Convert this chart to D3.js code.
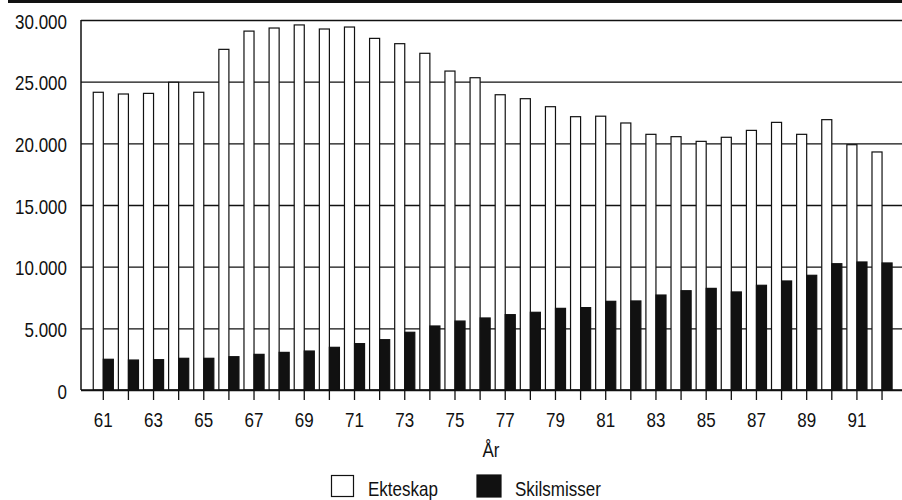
<!DOCTYPE html>
<html>
<head>
<meta charset="utf-8">
<script src="https://cdn.jsdelivr.net/npm/d3@7"></script>
<style>
  html, body { margin: 0; padding: 0; background: #fff; }
  svg { display: block; }
  text { font-family: "Liberation Sans", Arial, sans-serif; fill: #111; }
</style>
</head>
<body>
<svg id="chart" width="902" height="500"></svg>
<script>
const years = [61,62,63,64,65,66,67,68,69,70,71,72,73,74,75,76,77,78,79,80,81,82,83,84,85,86,87,88,89,90,91,92];
const ekteskap = [24140,24000,24050,24950,24140,27620,29100,29350,29600,29270,29430,28510,28080,27300,25860,25320,23940,23620,22970,22160,22200,21650,20730,20540,20160,20490,21050,21700,20730,21920,19890,19300];
const skilsmisser = [2490,2430,2460,2570,2570,2700,2890,3050,3160,3460,3760,4080,4680,5190,5590,5840,6110,6300,6620,6680,7190,7220,7700,8050,8240,7950,8490,8840,9300,10240,10380,10300];
const seriesNames = ["Ekteskap", "Skilsmisser"];
const seriesFill = {"Ekteskap": "#fff", "Skilsmisser": "#111"};
const yTicks = [0,5000,10000,15000,20000,25000,30000];
const xLabel = "År";

(function () {
const svg = d3.select("#chart");
const ink = "#111";
const pLeft = 81, pRight = 904, pTop = 20, pBottom = 390;
const squeeze = 0.85;

function narrow(sel, origin) {
  sel.style("transform-box", "fill-box")
     .style("transform-origin", origin)
     .style("transform", `scaleX(${squeeze})`);
}

const locale = d3.formatLocale({decimal: ",", thousands: ".", grouping: [3], currency: ["kr ", ""]});
const fmt = locale.format(",d");

const x = d3.scaleBand().domain(years).range([90.74, 894.6]).paddingInner(0.2).paddingOuter(0.1);
const xs = d3.scaleBand().domain(seriesNames).range([0, x.bandwidth()]);
const y = d3.scaleLinear().domain([0, 30000]).range([pBottom, pTop]);

// top rule
svg.append("rect").attr("x", 8).attr("y", 0).attr("width", 894).attr("height", 3).attr("fill", ink);

// y axis with gridlines
const yAxis = svg.append("g").attr("transform", `translate(${pLeft},0)`)
  .call(d3.axisLeft(y).tickValues(yTicks).tickFormat(fmt).tickSizeInner(-(pRight - pLeft)).tickSizeOuter(0).tickPadding(14));
yAxis.select(".domain").remove();
yAxis.selectAll(".tick line").attr("stroke", ink).attr("stroke-width", 1.3);
yAxis.selectAll(".tick text").attr("font-size", 20).attr("dy", "0.4em").attr("fill", ink).call(narrow, "right center");

// bars
const data = years.map((yr, i) => ({year: yr, values: [
  {key: "Ekteskap", value: ekteskap[i]},
  {key: "Skilsmisser", value: skilsmisser[i]}
]}));
const groups = svg.append("g").selectAll("g").data(data).join("g")
  .attr("transform", d => `translate(${x(d.year)},0)`);
groups.selectAll("rect").data(d => d.values).join("rect")
  .attr("x", d => xs(d.key))
  .attr("y", d => y(d.value))
  .attr("width", xs.bandwidth())
  .attr("height", d => pBottom - y(d.value))
  .attr("fill", d => seriesFill[d.key])
  .attr("stroke", ink).attr("stroke-width", 1.2);

// x axis
const xAxis = svg.append("g").attr("transform", `translate(0,${pBottom})`)
  .call(d3.axisBottom(x).tickSizeInner(10).tickSizeOuter(0).tickPadding(13)
    .tickFormat(d => (d % 2 === 1 ? String(d) : "")));
xAxis.select(".domain").remove();
xAxis.selectAll(".tick line").attr("stroke", ink).attr("stroke-width", 1.3);
xAxis.selectAll(".tick text").attr("font-size", 20).attr("fill", ink).call(narrow, "center center");

// frame
svg.append("line").attr("x1", pLeft).attr("x2", pRight).attr("y1", pBottom).attr("y2", pBottom).attr("stroke", ink).attr("stroke-width", 1.5);
svg.append("line").attr("x1", pLeft).attr("x2", pLeft).attr("y1", pTop).attr("y2", pBottom).attr("stroke", ink).attr("stroke-width", 1.5);

// x label
svg.append("text").attr("x", 491).attr("y", 457).attr("text-anchor", "middle").attr("font-size", 20).text(xLabel).call(narrow, "center center");

// legend
const legend = [
  {key: "Ekteskap", bx: 331.5, by: 475.5, bw: 22, bh: 21, tx: 368},
  {key: "Skilsmisser", bx: 477, by: 475, bw: 24, bh: 22, tx: 515}
];
legend.forEach(l => {
  svg.append("rect").attr("x", l.bx).attr("y", l.by).attr("width", l.bw).attr("height", l.bh)
    .attr("fill", seriesFill[l.key]).attr("stroke", ink).attr("stroke-width", 1.2);
  svg.append("text").attr("x", l.tx).attr("y", 496).attr("font-size", 20).text(l.key).call(narrow, "left center");
});
})();
</script>
</body>
</html>
